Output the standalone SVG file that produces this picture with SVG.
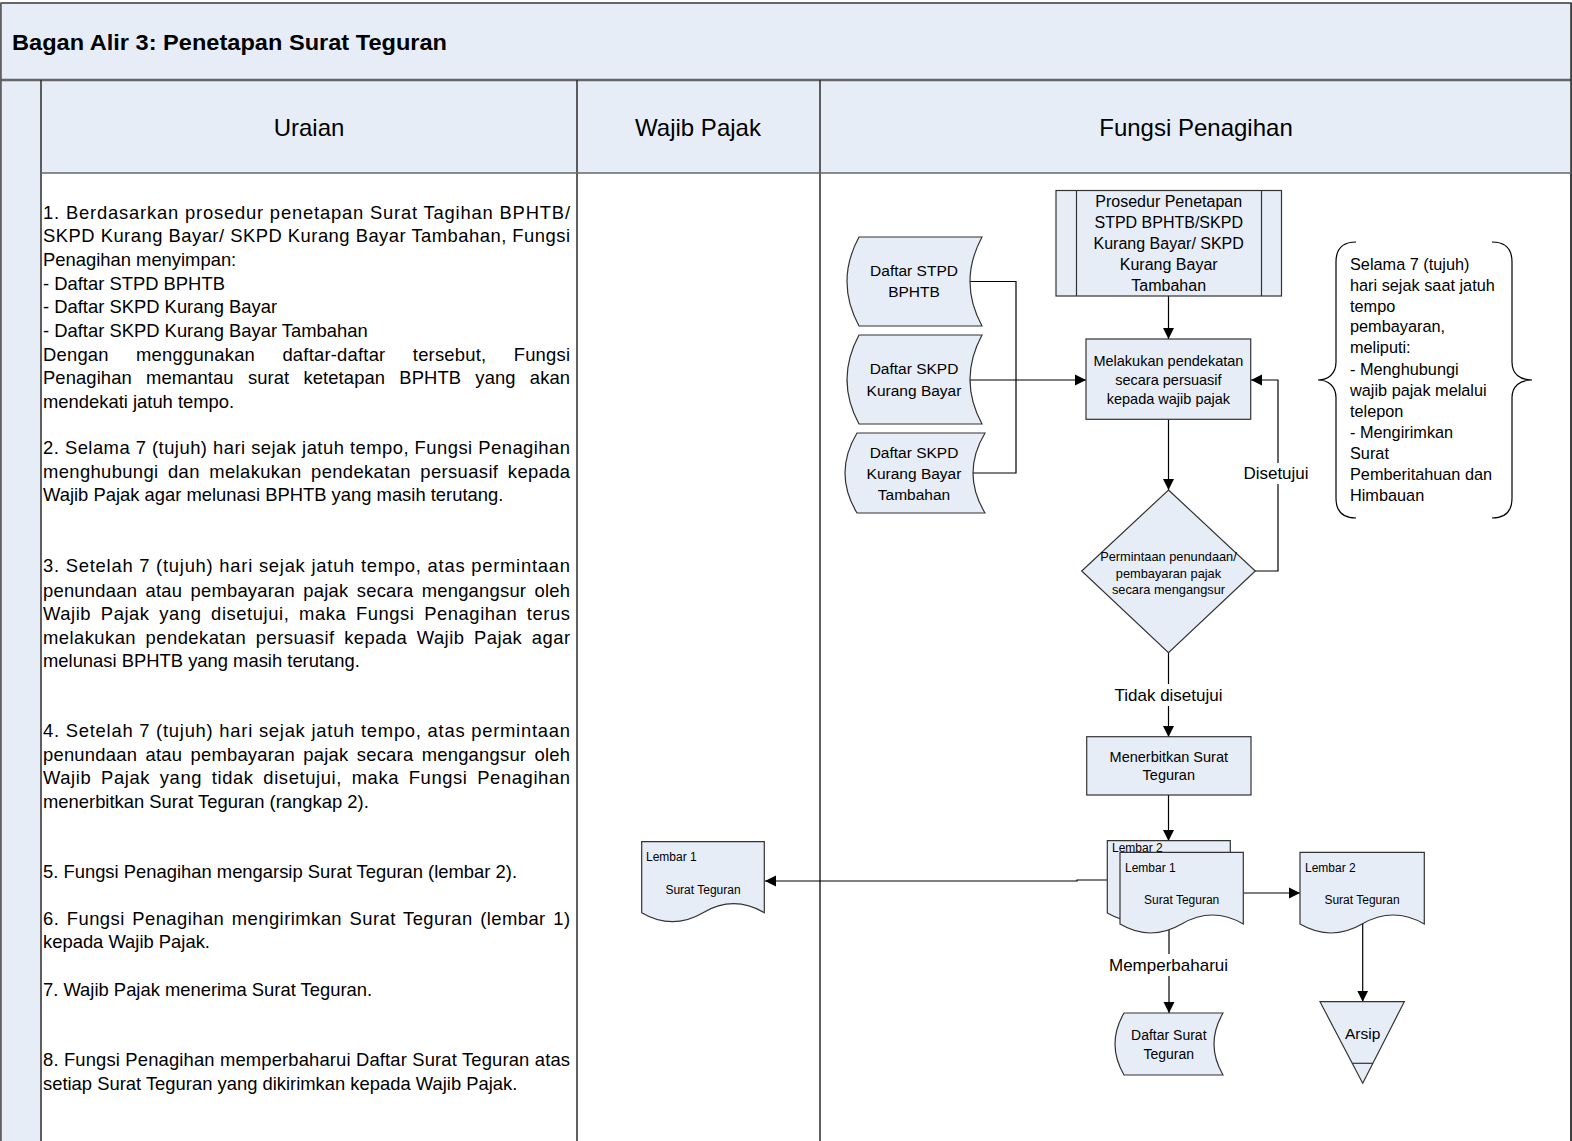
<svg xmlns="http://www.w3.org/2000/svg" width="1572" height="1141" viewBox="0 0 1572 1141">
<style>
text{font-family:"Liberation Sans",Arial,sans-serif;fill:#000}
.lane{fill:#E6EDF7}
.ln{stroke:#2b2b2b;stroke-width:1.5;fill:none}
.sh{fill:#E6EDF7;stroke:#333;stroke-width:1.2}
.c{stroke:#000;stroke-width:1.2;fill:none}
.lt{font-size:18.4px}
.j{font-size:18.4px}
.hd{font-size:24px;text-anchor:middle}
.t15{font-size:15.5px;text-anchor:middle}
.t16{font-size:16px;text-anchor:middle}
.t14{font-size:14.5px;text-anchor:middle}
.t12{font-size:12px}
.tm{text-anchor:middle}
.lab{font-size:17px;text-anchor:middle}
.br{font-size:16.3px}
</style>
<defs>
<marker id="ah" markerWidth="12" markerHeight="12" refX="11" refY="6" orient="auto" markerUnits="userSpaceOnUse"><path d="M0,0.5 L11,6 L0,11.5 z" fill="#000"/></marker>
</defs>

<g id="frame">
<rect x="1" y="3" width="1570" height="1140" fill="#fff" stroke="#555" stroke-width="1.5"/>
<rect class="lane" x="1" y="3" width="1570" height="77"/>
<rect class="lane" x="1" y="80" width="40" height="1063"/>
<rect class="lane" x="41" y="81" width="1530" height="92"/>
<line x1="1" y1="3" x2="1571" y2="3" stroke="#666" stroke-width="2"/>
<line x1="1" y1="80" x2="1571" y2="80" stroke="#666" stroke-width="2.5"/>
<line x1="1" y1="3" x2="1" y2="1141" stroke="#555" stroke-width="1.5"/>
<line class="ln" x1="41" y1="80" x2="41" y2="1141"/>
<line class="ln" x1="577" y1="80" x2="577" y2="1141"/>
<line class="ln" x1="820" y1="80" x2="820" y2="1141"/>
<line class="ln" x1="1571" y1="3" x2="1571" y2="1141"/>
<line x1="41" y1="173" x2="1571" y2="173" stroke="#666" stroke-width="1.5"/>
<text x="12" y="50" font-size="22.5" font-weight="bold" textLength="435" lengthAdjust="spacingAndGlyphs">Bagan Alir 3: Penetapan Surat Teguran</text>
<text class="hd" x="309" y="136">Uraian</text>
<text class="hd" x="698" y="136">Wajib Pajak</text>
<text class="hd" x="1196" y="136">Fungsi Penagihan</text>
</g>

<g id="uraian">
<text class="j" x="43" y="218.5" textLength="527" lengthAdjust="spacing">1. Berdasarkan prosedur penetapan Surat Tagihan BPHTB/</text>
<text class="j" x="43" y="242" textLength="527" lengthAdjust="spacing">SKPD Kurang Bayar/ SKPD Kurang Bayar Tambahan, Fungsi</text>
<text class="lt" x="43" y="265.5">Penagihan menyimpan:</text>
<text class="lt" x="43" y="289.5">- Daftar STPD BPHTB</text>
<text class="lt" x="43" y="313">- Daftar SKPD Kurang Bayar</text>
<text class="lt" x="43" y="337">- Daftar SKPD Kurang Bayar Tambahan</text>
<text class="j" x="43" y="361" word-spacing="22" textLength="527" lengthAdjust="spacing">Dengan menggunakan daftar-daftar tersebut, Fungsi</text>
<text class="j" x="43" y="384" word-spacing="9" textLength="527" lengthAdjust="spacing">Penagihan memantau surat ketetapan BPHTB yang akan</text>
<text class="lt" x="43" y="408">mendekati jatuh tempo.</text>

<text class="j" x="43" y="454" textLength="527" lengthAdjust="spacing">2. Selama 7 (tujuh) hari sejak jatuh tempo, Fungsi Penagihan</text>
<text class="j" x="43" y="478" word-spacing="4" textLength="527" lengthAdjust="spacing">menghubungi dan melakukan pendekatan persuasif kepada</text>
<text class="lt" x="43" y="501">Wajib Pajak agar melunasi BPHTB yang masih terutang.</text>

<text class="j" x="43" y="572" textLength="527" lengthAdjust="spacing">3. Setelah 7 (tujuh) hari sejak jatuh tempo, atas permintaan</text>
<text class="j" x="43" y="596.5" word-spacing="3" textLength="527" lengthAdjust="spacing">penundaan atau pembayaran pajak secara mengangsur oleh</text>
<text class="j" x="43" y="620" word-spacing="4" textLength="527" lengthAdjust="spacing">Wajib Pajak yang disetujui, maka Fungsi Penagihan terus</text>
<text class="j" x="43" y="643.5" word-spacing="4" textLength="527" lengthAdjust="spacing">melakukan pendekatan persuasif kepada Wajib Pajak agar</text>
<text class="lt" x="43" y="667">melunasi BPHTB yang masih terutang.</text>

<text class="j" x="43" y="737" textLength="527" lengthAdjust="spacing">4. Setelah 7 (tujuh) hari sejak jatuh tempo, atas permintaan</text>
<text class="j" x="43" y="761" word-spacing="3" textLength="527" lengthAdjust="spacing">penundaan atau pembayaran pajak secara mengangsur oleh</text>
<text class="j" x="43" y="784" word-spacing="4" textLength="527" lengthAdjust="spacing">Wajib Pajak yang tidak disetujui, maka Fungsi Penagihan</text>
<text class="lt" x="43" y="808">menerbitkan Surat Teguran (rangkap 2).</text>

<text class="lt" x="43" y="878">5. Fungsi Penagihan mengarsip Surat Teguran (lembar 2).</text>

<text class="j" x="43" y="925" word-spacing="2" textLength="527" lengthAdjust="spacing">6. Fungsi Penagihan mengirimkan Surat Teguran (lembar 1)</text>
<text class="lt" x="43" y="948">kepada Wajib Pajak.</text>

<text class="lt" x="43" y="996">7. Wajib Pajak menerima Surat Teguran.</text>

<text class="j" x="43" y="1066" textLength="527" lengthAdjust="spacing">8. Fungsi Penagihan memperbaharui Daftar Surat Teguran atas</text>
<text class="lt" x="43" y="1090">setiap Surat Teguran yang dikirimkan kepada Wajib Pajak.</text>
</g>

<g id="connectors">
<line class="c" x1="1168.5" y1="296" x2="1168.5" y2="339" marker-end="url(#ah)"/>
<polyline class="c" points="970,281.5 1016,281.5 1016,473 973,473"/>
<line class="c" x1="970" y1="380" x2="1086" y2="380" marker-end="url(#ah)"/>
<line class="c" x1="1168.5" y1="419" x2="1168.5" y2="490" marker-end="url(#ah)"/>
<polyline class="c" points="1255,571 1278,571 1278,380 1251,380" marker-end="url(#ah)"/>
<line class="c" x1="1168.5" y1="652" x2="1168.5" y2="737" marker-end="url(#ah)"/>
<line class="c" x1="1168.5" y1="795" x2="1168.5" y2="841" marker-end="url(#ah)"/>
<polyline class="c" points="1110,880 1077,880 1077,881 765,881" marker-end="url(#ah)"/>
<line class="c" x1="1240" y1="893" x2="1300" y2="893" marker-end="url(#ah)"/>
<line class="c" x1="1169" y1="928" x2="1169" y2="1013" marker-end="url(#ah)"/>
<line class="c" x1="1362.7" y1="920" x2="1362.7" y2="1001.7" marker-end="url(#ah)"/>
<rect x="1243" y="463" width="68" height="21" fill="#fff"/>
<text class="lab" x="1276" y="479">Disetujui</text>
<rect x="1111" y="684" width="115" height="22" fill="#fff"/>
<text class="lab" x="1168.5" y="701">Tidak disetujui</text>
<rect x="1106" y="954" width="126" height="22" fill="#fff"/>
<text class="lab" x="1168.5" y="971">Memperbaharui</text>
</g>

<g id="prosedur">
<rect class="sh" x="1056" y="190.5" width="225.5" height="105.5"/>
<line class="sh" x1="1076.5" y1="190.5" x2="1076.5" y2="296"/>
<line class="sh" x1="1261.5" y1="190.5" x2="1261.5" y2="296"/>
<text class="t16" x="1168.7" y="207">Prosedur Penetapan</text>
<text class="t16" x="1168.7" y="228">STPD BPHTB/SKPD</text>
<text class="t16" x="1168.7" y="248.5">Kurang Bayar/ SKPD</text>
<text class="t16" x="1168.7" y="269.5">Kurang Bayar</text>
<text class="t16" x="1168.7" y="290.5">Tambahan</text>
</g>

<g id="daftar-stpd">
<path class="sh" d="M859,237 H982 Q958,281.5 982,326 H859 Q835,281.5 859,237 Z"/>
<text class="t15" x="914" y="276">Daftar STPD</text>
<text class="t15" x="914" y="297">BPHTB</text>
</g>

<g id="daftar-skpd-kb">
<path class="sh" d="M859,335 H982 Q958,379.5 982,424 H859 Q835,379.5 859,335 Z"/>
<text class="t15" x="914" y="373.5">Daftar SKPD</text>
<text class="t15" x="914" y="395.5">Kurang Bayar</text>
</g>

<g id="daftar-skpd-kbt">
<path class="sh" d="M857,433 H985 Q961,473 985,513 H857 Q833,473 857,433 Z"/>
<text class="t15" x="914" y="457.5">Daftar SKPD</text>
<text class="t15" x="914" y="478.5">Kurang Bayar</text>
<text class="t15" x="914" y="499.5">Tambahan</text>
</g>

<g id="melakukan">
<rect class="sh" x="1086" y="339" width="164.7" height="80.3"/>
<text class="t14" x="1168.4" y="366">Melakukan pendekatan</text>
<text class="t14" x="1168.4" y="385">secara persuasif</text>
<text class="t14" x="1168.4" y="403.5">kepada wajib pajak</text>
</g>

<g id="keputusan">
<path class="sh" d="M1168.5,490 L1255.3,571 L1168.5,652.7 L1081.7,571 Z"/>
<text class="tm" font-size="12.8" x="1168.5" y="560.5">Permintaan penundaan/</text>
<text class="tm" font-size="12.8" x="1168.5" y="577.5">pembayaran pajak</text>
<text class="tm" font-size="12.8" x="1168.5" y="593.5">secara mengangsur</text>
</g>

<g id="catatan">
<path class="c" d="M1356,242 C1343,242 1336,248 1336,262 L1336,362 C1336,374 1328,380 1318,380 C1328,380 1336,386 1336,398 L1336,498 C1336,512 1343,518 1356,518"/>
<path class="c" d="M1492,242 C1505,242 1512,248 1512,262 L1512,362 C1512,374 1520,380 1532,380 C1520,380 1512,386 1512,398 L1512,498 C1512,512 1505,518 1492,518"/>
<text class="br" x="1350" y="270.2">Selama 7 (tujuh)</text>
<text class="br" x="1350" y="291.2">hari sejak saat jatuh</text>
<text class="br" x="1350" y="312.3">tempo</text>
<text class="br" x="1350" y="332.3">pembayaran,</text>
<text class="br" x="1350" y="353.4">meliputi:</text>
<text class="br" x="1350" y="374.5">- Menghubungi</text>
<text class="br" x="1350" y="395.5">wajib pajak melalui</text>
<text class="br" x="1350" y="416.5">telepon</text>
<text class="br" x="1350" y="437.5">- Mengirimkan</text>
<text class="br" x="1350" y="458.5">Surat</text>
<text class="br" x="1350" y="479.5">Pemberitahuan dan</text>
<text class="br" x="1350" y="500.8">Himbauan</text>
</g>

<g id="menerbitkan">
<rect class="sh" x="1086.7" y="736.7" width="164.3" height="58.3"/>
<text class="t14" x="1168.8" y="762">Menerbitkan Surat</text>
<text class="t14" x="1168.8" y="780">Teguran</text>
</g>

<g id="surat-teguran-rangkap">
<path class="sh" d="M1107.3,840.7 H1230.3 V913 Q1199,931 1168.8,913 T1107.3,913 Z" transform="matrix(-1,0,0,1,2337.6,0)"/>
<text class="t12" x="1112" y="852">Lembar 2</text>
<path class="sh" d="M1120,852.3 H1243.3 V924 Q1212.5,942 1181.7,924 T1120,924 Z" transform="matrix(-1,0,0,1,2363.3,0)"/>
<text class="t12" x="1125" y="872">Lembar 1</text>
<text class="t12 tm" x="1181.7" y="904">Surat Teguran</text>
</g>

<g id="surat-teguran-wp">
<path class="sh" d="M641.7,841.7 H764.3 V912.7 Q733.7,930.7 703,912.7 T641.7,912.7 Z" transform="matrix(-1,0,0,1,1406,0)"/>
<text class="t12" x="646" y="861">Lembar 1</text>
<text class="t12 tm" x="703" y="893.5">Surat Teguran</text>
</g>

<g id="surat-teguran-arsip">
<path class="sh" d="M1300,852.3 H1424.3 V924 Q1393.2,942 1362.2,924 T1300,924 Z" transform="matrix(-1,0,0,1,2724.3,0)"/>
<text class="t12" x="1305" y="872">Lembar 2</text>
<text class="t12 tm" x="1362" y="904">Surat Teguran</text>
</g>

<g id="daftar-surat-teguran">
<path class="sh" d="M1124,1013 H1223 Q1205,1044 1223,1075 H1124 Q1106,1044 1124,1013 Z"/>
<text class="tm" font-size="14" x="1168.8" y="1040">Daftar Surat</text>
<text class="tm" font-size="14" x="1168.8" y="1058.5">Teguran</text>
</g>

<g id="arsip">
<path class="sh" d="M1320,1001.7 H1404.3 L1362.7,1083.3 Z"/>
<line class="sh" x1="1352.2" y1="1063.3" x2="1372.9" y2="1063.3"/>
<text class="tm" font-size="15.5" x="1362.7" y="1039">Arsip</text>
</g>
</svg>
